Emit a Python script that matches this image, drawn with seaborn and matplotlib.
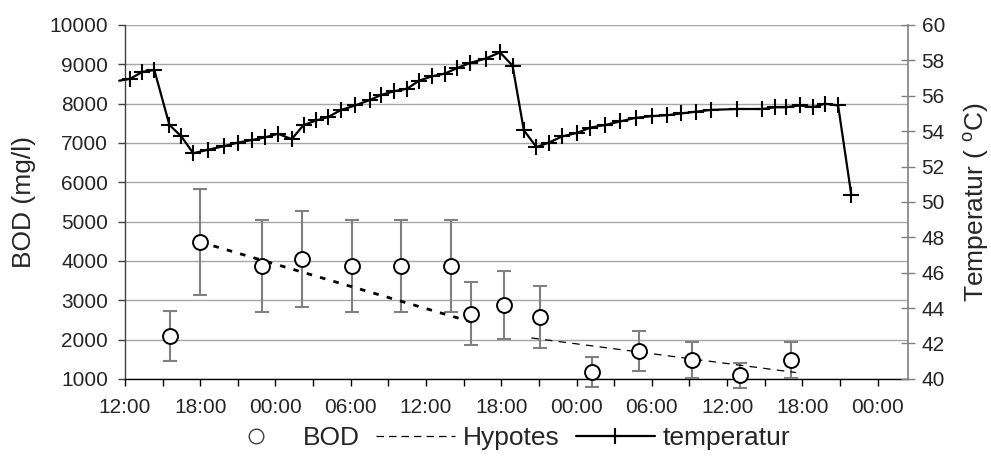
#!/usr/bin/env python3

# BOD and temperature over the run, replicate means with spread.
import matplotlib
matplotlib.use('Agg')
import matplotlib.pyplot as plt
import matplotlib.ticker as ticker
import numpy as np
import pandas as pd
import seaborn as sb

from matplotlib.lines import Line2D

# BOD samples, hours counted from 12:00 on the first day
bod_hours = [3.6, 6.0, 10.9, 14.1, 18.1, 22.0, 26.0, 27.6, 30.2, 33.1, 37.2, 41.0, 45.2, 49.0, 53.1]
bod_values = [2090, 4480, 3870, 4050, 3870, 3870, 3870, 2660, 2870, 2570, 1180, 1710, 1480, 1090, 1480]
bod_errors = [630, 1350, 1170, 1220, 1170, 1170, 1170, 810, 860, 790, 380, 510, 455, 320, 455]

# Hypothesis, two fitted segments
hyp_first_hours = [6.0, 27.9]
hyp_first_values = [4480, 2420]
hyp_second_hours = [32.4, 53.5]
hyp_second_values = [2040, 1160]

# Reactor temperature (C)
temp_hours = [-0.45, 0.4, 1.4, 2.35, 3.55, 4.5, 5.45, 6.65, 7.9, 9.0, 10.15, 11.2, 12.2, 13.3,
              14.25, 15.25, 16.2, 17.25, 18.35, 19.5, 20.45, 21.45, 22.5, 23.45, 24.5, 25.5,
              26.45, 27.5, 28.75, 29.9, 30.9, 31.8, 32.8, 33.8, 34.85, 36.05, 37.1, 38.3,
              39.5, 40.7, 42.05, 43.25, 44.35, 45.55, 46.75, 48.8, 50.8, 51.85, 52.7, 53.8,
              54.85, 55.8, 56.85, 57.9]
temp_values = [56.85, 56.95, 57.35, 57.45, 54.35, 53.7, 52.75, 52.95, 53.15, 53.35, 53.5, 53.65,
               53.85, 53.55, 54.35, 54.6, 54.8, 55.2, 55.45, 55.75, 56.05, 56.25, 56.4, 56.85,
               57.1, 57.25, 57.55, 57.85, 58.1, 58.45, 57.7, 54.05, 53.1, 53.35, 53.7, 53.9,
               54.2, 54.35, 54.55, 54.75, 54.85, 54.9, 55.0, 55.1, 55.2, 55.25, 55.25, 55.35,
               55.35, 55.45, 55.35, 55.55, 55.45, 50.4]

tick_hours = [0, 6, 12, 18, 24, 30, 36, 42, 48, 54, 60]
tick_labels = ['12:00', '18:00', '00:00', '06:00', '12:00', '18:00',
               '00:00', '06:00', '12:00', '18:00', '00:00']


def main():
    sb.set_style('white')
    plt.rcParams['font.family'] = ['Liberation Sans', 'DejaVu Sans']
    plt.rcParams['mathtext.fontset'] = 'custom'
    plt.rcParams['mathtext.rm'] = 'Liberation Sans'

    bod = pd.DataFrame({'hours': bod_hours, 'bod': bod_values, 'err': bod_errors})
    temps = pd.DataFrame({'hours': temp_hours, 'temp': temp_values})

    figure = plt.figure(figsize=(9.91, 4.62), dpi=100)
    axis = figure.add_axes([0.126, 0.180, 0.790, 0.766])
    right = axis.twinx()

    # BOD with the spread as error bars
    axis.errorbar(bod['hours'], bod['bod'], yerr=bod['err'], fmt='none', ecolor='#808080',
                  elinewidth=1.5, capsize=4.7, capthick=1.5, zorder=3, clip_on=False)
    sb.scatterplot(data=bod, x='hours', y='bod', ax=axis, marker='o', s=115, color='white',
                   edgecolor='black', linewidth=1.4, zorder=5, clip_on=False, legend=False)

    # Hypothesis segments
    sb.lineplot(x=hyp_first_hours, y=hyp_first_values, ax=axis, color='black', linewidth=2.0,
                dashes=False, zorder=4).lines[-1].set_dashes((2, 3))
    sb.lineplot(x=hyp_second_hours, y=hyp_second_values, ax=axis, color='black', linewidth=0.9,
                zorder=4).lines[-1].set_dashes((6, 5))

    # Temperature on the right hand axis
    sb.lineplot(data=temps, x='hours', y='temp', ax=right, color='black', linewidth=1.6,
                marker='+', markersize=11, markeredgewidth=1.5, markeredgecolor='black',
                markevery=list(range(1, len(temps))), clip_on=False)

    # Format the axes
    axis.set_xlim(0, 62.4)
    axis.set_ylim(1000, 10000)
    right.set_ylim(40, 60)
    axis.yaxis.set_major_locator(ticker.MultipleLocator(1000))
    right.yaxis.set_major_locator(ticker.MultipleLocator(2))
    axis.xaxis.set_major_locator(ticker.FixedLocator(tick_hours))
    axis.xaxis.set_major_formatter(ticker.FixedFormatter(tick_labels))
    axis.xaxis.set_minor_locator(ticker.MultipleLocator(3))

    axis.grid(axis='y', color='#a6a6a6', linewidth=1.0)
    axis.set_axisbelow(True)
    for side in ['top', 'right']:
        axis.spines[side].set_visible(False)
    right.spines['top'].set_visible(False)
    right.spines['left'].set_visible(False)
    right.spines['bottom'].set_visible(False)
    axis.spines['left'].set_color('#404040')
    axis.spines['bottom'].set_color('black')
    right.spines['right'].set_color('#808080')
    for spine in ['left', 'bottom']:
        axis.spines[spine].set_linewidth(1.0)
    right.spines['right'].set_linewidth(1.2)

    axis.tick_params(axis='y', direction='out', length=5, width=1, color='#404040',
                     labelsize=15, pad=7, left=True)
    axis.tick_params(axis='x', which='both', direction='out', length=5, width=1, color='black',
                     labelsize=15, pad=9, bottom=True)
    right.tick_params(axis='y', direction='inout', length=10, width=1, color='#808080',
                      labelsize=15, pad=5, right=True)

    axis.set_xlabel('')
    axis.set_ylabel('BOD (mg/l)', fontsize=19, labelpad=10)
    right.set_ylabel(r'Temperatur ( $^{\mathrm{o}}$C)', fontsize=19, labelpad=12)

    # Legend underneath
    handles = [
        Line2D([], [], linestyle='none', marker='o', markersize=10.5, markerfacecolor='white',
               markeredgecolor='#404040', markeredgewidth=1.0),
        Line2D([], [], color='black', linewidth=0.9, dashes=(6, 4)),
        Line2D([], [], color='black', linewidth=1.6, marker='+', markersize=11,
               markeredgewidth=1.5, markevery=[1]),
    ]
    handles[2].set_data([0, 0.5, 1], [0, 0, 0])
    figure.legend(handles, ['BOD', 'Hypotes', 'temperatur'], loc='center',
                  bbox_to_anchor=(0.508, 0.052), ncol=3, frameon=False, fontsize=19,
                  handlelength=3.0, handletextpad=0.3, columnspacing=0.6)

    plt.savefig('out.png', dpi=100)
    plt.close()


if __name__ == '__main__':
    main()
